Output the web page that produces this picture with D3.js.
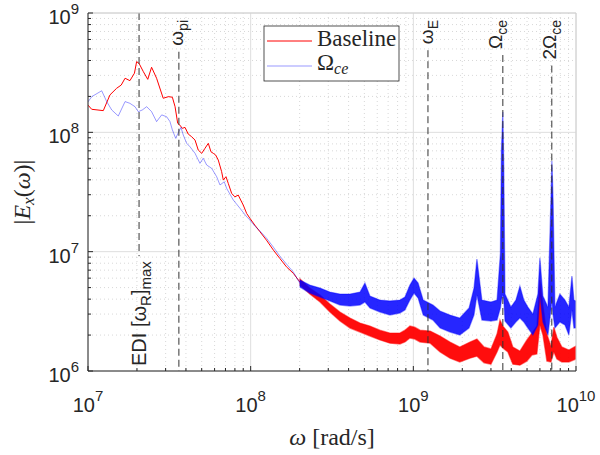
<!DOCTYPE html>
<html>
<head>
<meta charset="utf-8">
<script src="https://cdn.jsdelivr.net/npm/d3@7"></script>
<style>
  body { margin: 0; background: #fff; }
  text { font-family: "Liberation Sans", Arial, sans-serif; fill: #262626; }
  .tex { font-family: "Liberation Serif", "Times New Roman", serif; }
</style>
</head>
<body>
<div id="chart"></div>
<script>
// Baseline run: low-frequency part read as a single line (omega in rad/s, |Ex|)
const baseLineW = [1.00e7, 1.054e7, 1.242e7, 1.365e7, 1.50e7, 1.60e7, 1.69e7, 1.81e7, 1.93e7, 1.99e7,
    2.06e7, 2.19e7, 2.33e7, 2.46e7, 2.64e7, 2.90e7, 3.12e7, 3.30e7, 3.43e7, 3.56e7,
    3.67e7, 3.80e7, 3.95e7, 4.13e7, 4.34e7, 4.55e7, 4.76e7, 5.00e7, 5.24e7, 5.49e7,
    5.70e7, 5.89e7, 6.09e7, 6.32e7, 6.63e7, 6.79e7, 7.05e7, 7.28e7, 7.64e7, 8.00e7,
    8.39e7, 8.68e7, 9.00e7, 9.45e7, 9.90e7, 1.06e8, 1.14e8, 1.25e8, 1.38e8, 1.51e8,
    1.66e8, 1.83e8, 2.01e8];
const baseLineE = [1.69e8, 1.56e8, 1.52e8, 2.06e8, 2.34e8, 2.49e8, 2.84e8, 2.71e8, 3.13e8, 3.91e8,
    3.78e8, 3.22e8, 2.78e8, 3.51e8, 2.84e8, 1.93e8, 1.99e8, 1.97e8, 1.64e8, 1.19e8,
    1.15e8, 1.08e8, 1.10e8, 9.68e7, 9.18e7, 8.61e7, 7.11e7, 6.67e7, 7.35e7, 8.09e7,
    6.87e7, 6.67e7, 6.46e7, 5.86e7, 4.68e7, 3.98e7, 4.25e7, 3.74e7, 3.08e7, 2.88e7,
    2.98e7, 2.71e7, 2.46e7, 2.09e7, 1.90e7, 1.67e7, 1.47e7, 1.25e7, 1.03e7, 8.79e6,
    7.46e6, 6.58e6, 5.56e6];

// Baseline run: noisy high-frequency part, read as min / max envelope
const baseBandW = [2.01e8, 2.31e8, 2.67e8, 3.07e8, 3.54e8, 4.08e8, 4.70e8, 5.41e8, 6.23e8, 7.18e8,
    8.27e8, 8.88e8, 9.53e8, 1.02e9, 1.10e9, 1.27e9, 1.46e9, 1.68e9, 1.93e9, 2.23e9,
    2.46e9, 2.72e9, 3.00e9, 3.27e9, 3.41e9, 3.55e9, 3.81e9, 4.09e9, 4.52e9, 4.99e9,
    5.36e9, 5.75e9, 6.00e9, 6.26e9, 6.62e9, 7.01e9, 7.31e9, 7.63e9, 8.19e9, 9.04e9, 1.00e10];
const baseBandHi = [5.89e6, 4.95e6, 4.33e6, 3.64e6, 3.12e6, 2.78e6, 2.52e6, 2.38e6, 2.20e6, 2.08e6,
    2.08e6, 2.20e6, 2.38e6, 2.33e6, 2.20e6, 2.16e6, 1.96e6, 1.75e6, 1.59e6, 1.75e6,
    1.85e6, 1.59e6, 1.53e6, 2.04e6, 2.67e6, 2.38e6, 2.12e6, 1.59e6, 1.47e6, 1.82e6,
    2.08e6, 2.38e6, 5.78e6, 3.57e6, 2.04e6, 1.62e6, 2.33e6, 1.92e6, 1.59e6, 1.50e6, 1.62e6];
const baseBandLo = [5.25e6, 4.41e6, 3.78e6, 3.12e6, 2.62e6, 2.29e6, 2.12e6, 1.96e6, 1.82e6, 1.71e6,
    1.68e6, 1.75e6, 1.89e6, 1.85e6, 1.75e6, 1.71e6, 1.44e6, 1.28e6, 1.19e6, 1.28e6,
    1.33e6, 1.17e6, 1.14e6, 1.44e6, 1.65e6, 1.56e6, 1.44e6, 1.14e6, 1.12e6, 1.21e6,
    1.36e6, 1.39e6, 2.43e6, 2.00e6, 1.21e6, 1.19e6, 1.44e6, 1.26e6, 1.19e6, 1.19e6, 1.26e6];

// Omega_ce run
const wceLineW = [1.00e7, 1.054e7, 1.214e7, 1.303e7, 1.399e7, 1.535e7, 1.69e7, 1.81e7, 1.945e7, 2.038e7,
    2.157e7, 2.295e7, 2.46e7, 2.64e7, 2.838e7, 3.045e7, 3.191e7, 3.30e7, 3.459e7, 3.589e7,
    3.729e7, 3.852e7, 4.043e7, 4.236e7, 4.55e7, 4.879e7, 5.110e7, 5.365e7, 5.759e7, 6.180e7,
    6.476e7, 6.881e7, 7.119e7, 7.817e7, 8.596e7, 9.45e7, 9.90e7, 1.06e8, 1.14e8, 1.25e8,
    1.38e8, 1.51e8, 1.66e8, 1.83e8, 2.01e8];
const wceLineE = [1.80e8, 1.99e8, 2.23e8, 1.81e8, 1.54e8, 1.37e8, 1.81e8, 1.75e8, 1.64e8, 1.49e8,
    1.54e8, 1.64e8, 1.49e8, 1.23e8, 1.40e8, 1.35e8, 1.23e8, 1.05e8, 8.91e7, 9.92e7,
    1.10e8, 9.49e7, 8.09e7, 7.57e7, 6.67e7, 5.50e7, 6.06e7, 5.32e7, 4.99e7, 4.25e7,
    3.62e7, 3.85e7, 3.39e7, 2.71e7, 2.31e7, 1.96e7, 1.84e7, 1.64e7, 1.49e7, 1.30e7,
    1.09e7, 9.19e6, 7.87e6, 6.75e6, 5.40e6];
const wceBandW = [2.01e8, 2.31e8, 2.67e8, 3.07e8, 3.54e8, 4.08e8, 4.70e8, 5.04e8, 5.41e8, 6.23e8,
    7.18e8, 8.27e8, 8.88e8, 9.53e8, 1.01e9, 1.07e9, 1.15e9, 1.32e9, 1.46e9, 1.68e9,
    1.93e9, 2.20e9, 2.36e9, 2.46e9, 2.64e9, 3.00e9, 3.27e9, 3.43e9, 3.48e9, 3.55e9,
    3.60e9, 3.66e9, 3.98e9, 4.27e9, 4.52e9, 4.78e9, 5.06e9, 5.43e9, 5.83e9, 6.00e9,
    6.26e9, 6.72e9, 7.01e9, 7.11e9, 7.23e9, 7.42e9, 7.96e9, 8.55e9, 9.04e9, 9.44e9,
    9.71e9, 1.00e10];
const wceBandHi = [5.78e6, 5.25e6, 4.95e6, 4.59e6, 4.41e6, 4.41e6, 4.59e6, 5.46e6, 4.25e6, 3.93e6,
    3.86e6, 3.93e6, 4.16e6, 5.25e6, 6.01e6, 5.46e6, 3.93e6, 3.57e6, 3.18e6, 2.94e6,
    2.78e6, 3.37e6, 4.95e6, 8.67e6, 3.93e6, 3.78e6, 3.93e6, 9.73e6, 7.11e7, 1.48e8,
    4.83e7, 4.41e6, 3.43e6, 3.93e6, 5.15e6, 3.93e6, 3.43e6, 3.00e6, 4.41e6, 8.84e6,
    4.25e6, 3.43e6, 2.71e7, 5.75e7, 2.71e7, 3.43e6, 4.41e6, 3.93e6, 3.43e6, 6.25e6,
    3.93e6, 3.86e6];
const wceBandLo = [5.05e6, 4.50e6, 4.16e6, 3.86e6, 3.57e6, 3.50e6, 3.57e6, 3.78e6, 3.37e6, 3.12e6,
    2.94e6, 3.06e6, 3.24e6, 3.93e6, 4.50e6, 4.08e6, 2.94e6, 2.67e6, 2.29e6, 2.12e6,
    2.00e6, 2.29e6, 2.94e6, 4.33e6, 2.67e6, 2.62e6, 2.67e6, 3.37e6, 3.93e6, 4.33e6,
    3.93e6, 2.62e6, 2.29e6, 2.57e6, 2.78e6, 2.57e6, 2.29e6, 2.00e6, 2.43e6, 4.33e6,
    2.57e6, 2.00e6, 3.24e6, 3.93e6, 2.94e6, 2.29e6, 2.57e6, 2.43e6, 2.00e6, 3.24e6,
    2.29e6, 2.29e6];

// characteristic frequencies (dashed markers)
const markerW = [2.06e7, 3.62e7, 1.23e9, 3.55e9, 7.10e9];
const markerLabels = [
    [["EDI [\u03c9", 0], ["R", 1], ["]", 0], ["max", 1]],
    [["\u03c9", 0], ["pi", 1]],
    [["\u03c9", 0], ["E", 1]],
    [["\u03a9", 0], ["ce", 1]],
    [["2\u03a9", 0], ["ce", 1]]
];
const xTicks = [1e7, 1e8, 1e9, 1e10];
const yTicks = [1e6, 1e7, 1e8, 1e9];

document.addEventListener("DOMContentLoaded", function() {
    const width = 600, height = 455;
    const left = 88, right = 576, top = 13, bottom = 371;

    const svg = d3.select("#chart").append("svg")
        .attr("width", width)
        .attr("height", height);

    const x = d3.scaleLog().domain([1e7, 1e10]).range([left, right]);
    const y = d3.scaleLog().domain([1e6, 1e9]).range([bottom, top]);

    const minorX = x.ticks().filter(t => !xTicks.includes(t));
    const minorY = y.ticks().filter(t => !yTicks.includes(t));

    // grid
    const grid = svg.append("g");
    grid.selectAll("line.mx").data(minorX).enter().append("line")
        .attr("x1", d => x(d)).attr("x2", d => x(d))
        .attr("y1", top).attr("y2", bottom)
        .attr("stroke", "#bdbdbd").attr("stroke-width", 0.6)
        .attr("stroke-dasharray", "1,3");
    grid.selectAll("line.my").data(minorY).enter().append("line")
        .attr("x1", left).attr("x2", right)
        .attr("y1", d => y(d)).attr("y2", d => y(d))
        .attr("stroke", "#bdbdbd").attr("stroke-width", 0.6)
        .attr("stroke-dasharray", "1,3");
    grid.selectAll("line.gx").data(xTicks).enter().append("line")
        .attr("x1", d => x(d)).attr("x2", d => x(d))
        .attr("y1", top).attr("y2", bottom)
        .attr("stroke", "#dedede").attr("stroke-width", 1);
    grid.selectAll("line.gy").data(yTicks).enter().append("line")
        .attr("x1", left).attr("x2", right)
        .attr("y1", d => y(d)).attr("y2", d => y(d))
        .attr("stroke", "#dedede").attr("stroke-width", 1);

    svg.append("clipPath").attr("id", "plotClip")
        .append("rect").attr("x", left).attr("y", top)
        .attr("width", right - left).attr("height", bottom - top);
    const plot = svg.append("g").attr("clip-path", "url(#plotClip)");

    const line = d3.line().x(d => x(d[0])).y(d => y(d[1]));
    const band = d3.area().x(d => x(d[0])).y0(d => y(d[1])).y1(d => y(d[2]));

    // baseline (red)
    plot.append("path")
        .datum(d3.zip(baseLineW, baseLineE))
        .attr("d", line)
        .attr("fill", "none").attr("stroke", "#ff0000").attr("stroke-width", 1);
    plot.append("path")
        .datum(d3.zip(baseBandW, baseBandLo, baseBandHi))
        .attr("d", band)
        .attr("fill", "#ff0000").attr("fill-opacity", 0.95)
        .attr("stroke", "#ff0000").attr("stroke-opacity", 0.5).attr("stroke-width", 1.3);

    // Omega_ce (blue, translucent)
    plot.append("path")
        .datum(d3.zip(wceLineW, wceLineE))
        .attr("d", line)
        .attr("fill", "none").attr("stroke", "#0000ff").attr("stroke-opacity", 0.4).attr("stroke-width", 1);
    plot.append("path")
        .datum(d3.zip(wceBandW, wceBandLo, wceBandHi))
        .attr("d", band)
        .attr("fill", "#0000ff").attr("fill-opacity", 0.85)
        .attr("stroke", "#0000ff").attr("stroke-opacity", 0.4).attr("stroke-width", 1.3);

    // dashed markers with rotated labels
    const markers = svg.append("g");
    markerW.forEach((w, i) => {
        const mx = x(w);
        const isEdi = i === 0;
        const dx = [7, 4, 5, -1, 4][i];
        const ty = isEdi ? 366 : 20;
        const big = isEdi ? 20 : 19, small = isEdi ? 15 : 14;
        const label = markers.append("text")
            .attr("transform", `translate(${mx + dx},${ty}) rotate(-90)`)
            .attr("text-anchor", isEdi ? "start" : "end")
            .style("font-size", big + "px");
        let shift = 0;
        markerLabels[i].forEach(([s, sub]) => {
            const dy = sub ? 5 - shift : -shift;
            shift = sub ? 5 : 0;
            label.append("tspan")
                .attr("dy", dy)
                .style("font-size", (sub ? small : big) + "px")
                .text(s);
        });
        const len = label.node().getComputedTextLength();
        markers.append("line")
            .attr("x1", mx).attr("x2", mx)
            .attr("y1", isEdi ? top : ty + len + 6)
            .attr("y2", isEdi ? ty - len - 5 : bottom)
            .attr("stroke", "#333").attr("stroke-width", 1)
            .attr("stroke-dasharray", "7,4");
    });

    // axes box
    svg.append("line").attr("x1", left).attr("x2", right).attr("y1", top).attr("y2", top)
        .attr("stroke", "#d0d0d0");
    svg.append("line").attr("x1", right).attr("x2", right).attr("y1", top).attr("y2", bottom)
        .attr("stroke", "#d0d0d0");
    svg.append("line").attr("x1", left).attr("x2", right).attr("y1", bottom).attr("y2", bottom)
        .attr("stroke", "#262626");
    svg.append("line").attr("x1", left).attr("x2", left).attr("y1", top).attr("y2", bottom)
        .attr("stroke", "#262626");

    // ticks (inside)
    svg.selectAll("line.tx").data(x.ticks()).enter().append("line")
        .attr("x1", d => x(d)).attr("x2", d => x(d))
        .attr("y1", bottom).attr("y2", d => bottom - (xTicks.includes(d) ? 5 : 3))
        .attr("stroke", "#262626");
    svg.selectAll("line.ty").data(y.ticks()).enter().append("line")
        .attr("y1", d => y(d)).attr("y2", d => y(d))
        .attr("x1", left).attr("x2", d => left + (yTicks.includes(d) ? 5 : 3))
        .attr("stroke", "#262626");

    // tick labels 10^n
    xTicks.forEach(t => {
        const lab = svg.append("text")
            .attr("x", x(t)).attr("y", bottom + 41)
            .attr("text-anchor", "middle")
            .style("font-size", "20px");
        lab.append("tspan").text("10");
        lab.append("tspan").attr("dy", -11).style("font-size", "15px").text(Math.round(Math.log10(t)));
    });
    yTicks.forEach(t => {
        const lab = svg.append("text")
            .attr("x", left - 9).attr("y", y(t) + 11)
            .attr("text-anchor", "end")
            .style("font-size", "20px");
        lab.append("tspan").text("10");
        lab.append("tspan").attr("dy", -10).style("font-size", "15px").text(Math.round(Math.log10(t)));
    });

    // axis titles
    const xl = svg.append("text").attr("class", "tex")
        .attr("x", (left + right) / 2).attr("y", 445)
        .attr("text-anchor", "middle")
        .style("font-size", "24px");
    xl.append("tspan").style("font-style", "italic").text("\u03c9");
    xl.append("tspan").attr("dx", 6).text("[rad/s]");

    const yl = svg.append("text").attr("class", "tex")
        .attr("transform", `translate(30,${(top + bottom) / 2}) rotate(-90)`)
        .attr("text-anchor", "middle")
        .style("font-size", "24px");
    yl.append("tspan").text("|");
    yl.append("tspan").style("font-style", "italic").text("E");
    yl.append("tspan").attr("dy", 4).style("font-style", "italic").style("font-size", "17px").text("x");
    yl.append("tspan").attr("dy", -4).text("(");
    yl.append("tspan").style("font-style", "italic").text("\u03c9");
    yl.append("tspan").text(")|");

    // legend
    const legend = svg.append("g");
    legend.append("rect")
        .attr("x", 264).attr("y", 26).attr("width", 135).attr("height", 55)
        .attr("fill", "#fff").attr("stroke", "#262626").attr("stroke-width", 0.8);
    legend.append("line").attr("x1", 267).attr("x2", 312).attr("y1", 41).attr("y2", 41)
        .attr("stroke", "#ff0000");
    legend.append("line").attr("x1", 267).attr("x2", 312).attr("y1", 66).attr("y2", 66)
        .attr("stroke", "#0000ff").attr("stroke-opacity", 0.4);
    legend.append("text").attr("class", "tex")
        .attr("x", 317).attr("y", 46)
        .style("font-size", "23px").text("Baseline");
    const lw = legend.append("text").attr("class", "tex")
        .attr("x", 317).attr("y", 70)
        .style("font-size", "23px");
    lw.append("tspan").text("\u03a9");
    lw.append("tspan").attr("dy", 4).style("font-style", "italic").style("font-size", "16px").text("ce");
});
</script>
</body>
</html>
